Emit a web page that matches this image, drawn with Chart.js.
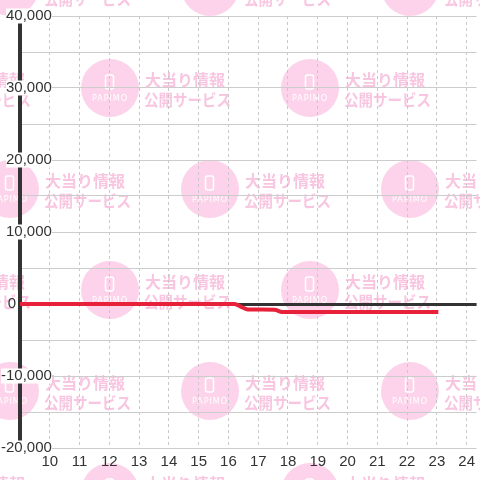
<!DOCTYPE html>
<html>
<head>
<meta charset="utf-8">
<script src="https://cdn.jsdelivr.net/npm/chart.js@4"></script>
<style>
  body { margin: 0; background: #fff; }
</style>
</head>
<body>
<canvas id="slumpChart" width="480" height="480"></canvas>
<script>
// hour of day -> balance (medals)
const hours = [9, 16.2, 16.45, 16.65, 17.55, 17.8, 23.05];
const values = [0, 0, -450, -750, -800, -1100, -1120];
const hourTicks = [10, 11, 12, 13, 14, 15, 16, 17, 18, 19, 20, 21, 22, 23, 24];
const yTicks = [-20000, -15000, -10000, -5000, 0, 5000, 10000, 15000, 20000, 25000, 30000, 35000, 40000];

const labelFont = { family: "'Liberation Sans', Arial, sans-serif", size: 15 };

function drawMark(ctx, cx, cy) {
  ctx.fillStyle = "#fcd3ea";
  ctx.beginPath();
  ctx.arc(cx, cy, 29, 0, Math.PI * 2);
  ctx.fill();

  // phone icon
  ctx.strokeStyle = "#fff";
  ctx.lineWidth = 1.5;
  ctx.beginPath();
  ctx.roundRect(cx - 4.5, cy - 13, 8, 14, 2);
  ctx.stroke();

  ctx.fillStyle = "#fff";
  ctx.font = "9px 'DejaVu Sans', sans-serif";
  ctx.letterSpacing = "1px";
  ctx.textAlign = "center";
  ctx.textBaseline = "middle";
  ctx.fillText("PAPIMO", cx, cy + 10.5, 36);
  ctx.letterSpacing = "0px";

  ctx.fillStyle = "#f8c6e1";
  ctx.font = "bold 16px 'Noto Sans CJK JP', sans-serif";
  ctx.textAlign = "left";
  ctx.fillText("大当り情報", cx + 35, cy - 8.5, 83);
  ctx.fillText("公開サービス", cx + 34, cy + 11.5, 87);
}

const watermark = {
  id: "watermark",
  beforeDraw(chart) {
    const ctx = chart.ctx;
    ctx.save();
    ctx.fillStyle = "#fff";
    ctx.fillRect(0, 0, chart.width, chart.height);
    for (let r = 0; r < 6; r++) {
      const cy = -13 + r * 101;
      const start = r % 2 === 0 ? 10 : 110;
      for (let cx = start - 200; cx < 600; cx += 200) {
        drawMark(ctx, cx, cy);
      }
    }
    ctx.restore();
  }
};

// the "0" label sits left of the axis line
const zeroLabel = {
  id: "zeroLabel",
  afterDraw(chart) {
    const ctx = chart.ctx;
    const y0 = chart.scales.y.getPixelForValue(0);
    ctx.save();
    ctx.font = "15px " + labelFont.family;
    ctx.fillStyle = "#333";
    ctx.textAlign = "right";
    ctx.textBaseline = "middle";
    ctx.fillText("0", 16, y0);
    ctx.restore();
  }
};

const ctx = document.getElementById("slumpChart").getContext("2d");
new Chart(ctx, {
  type: "line",
  data: {
    datasets: [
      {
        data: hours.map((h, i) => ({ x: h, y: values[i] })),
        borderColor: "#e8213a",
        borderWidth: 4,
        pointRadius: 0,
        cubicInterpolationMode: "monotone",
        fill: false,
      },
    ],
  },
  options: {
    responsive: false,
    animation: false,
    layout: { padding: { top: 16, left: 0, right: 0, bottom: 0 } },
    plugins: {
      legend: { display: false },
      tooltip: { enabled: false },
    },
    scales: {
      x: {
        type: "linear",
        min: 9,
        max: 24 + 1 / 3,
        afterBuildTicks: (s) => {
          s.ticks = hourTicks.map((v) => ({ value: v }));
        },
        afterFit: (s) => {
          s.height = 32;
        },
        grid: { color: "#c8c8c8", drawTicks: false },
        border: { display: false, dash: [3, 3] },
        ticks: {
          padding: 5,
          color: "#333",
          font: labelFont,
          maxRotation: 0,
          autoSkip: false,
        },
      },
      y: {
        type: "linear",
        min: -20000,
        max: 40000,
        afterBuildTicks: (s) => {
          s.ticks = yTicks.map((v) => ({ value: v }));
        },
        afterFit: (s) => {
          s.width = 20;
        },
        grid: {
          color: (c) => (c.tick && c.tick.value === 0 ? "#333" : "#ccc"),
          lineWidth: (c) => (c.tick && c.tick.value === 0 ? 3 : 1),
          drawTicks: false,
        },
        border: { display: true, color: "#333", width: 4 },
        ticks: {
          mirror: true,
          crossAlign: "far",
          padding: -19,
          color: "#333",
          font: { ...labelFont, lineHeight: 1 },
          showLabelBackdrop: true,
          backdropColor: "#fff",
          backdropPadding: 0,
          callback: (v) =>
            v !== 0 && v % 10000 === 0 ? v.toLocaleString("en-US") : "",
        },
      },
    },
  },
  plugins: [watermark, zeroLabel],
});
</script>
</body>
</html>
